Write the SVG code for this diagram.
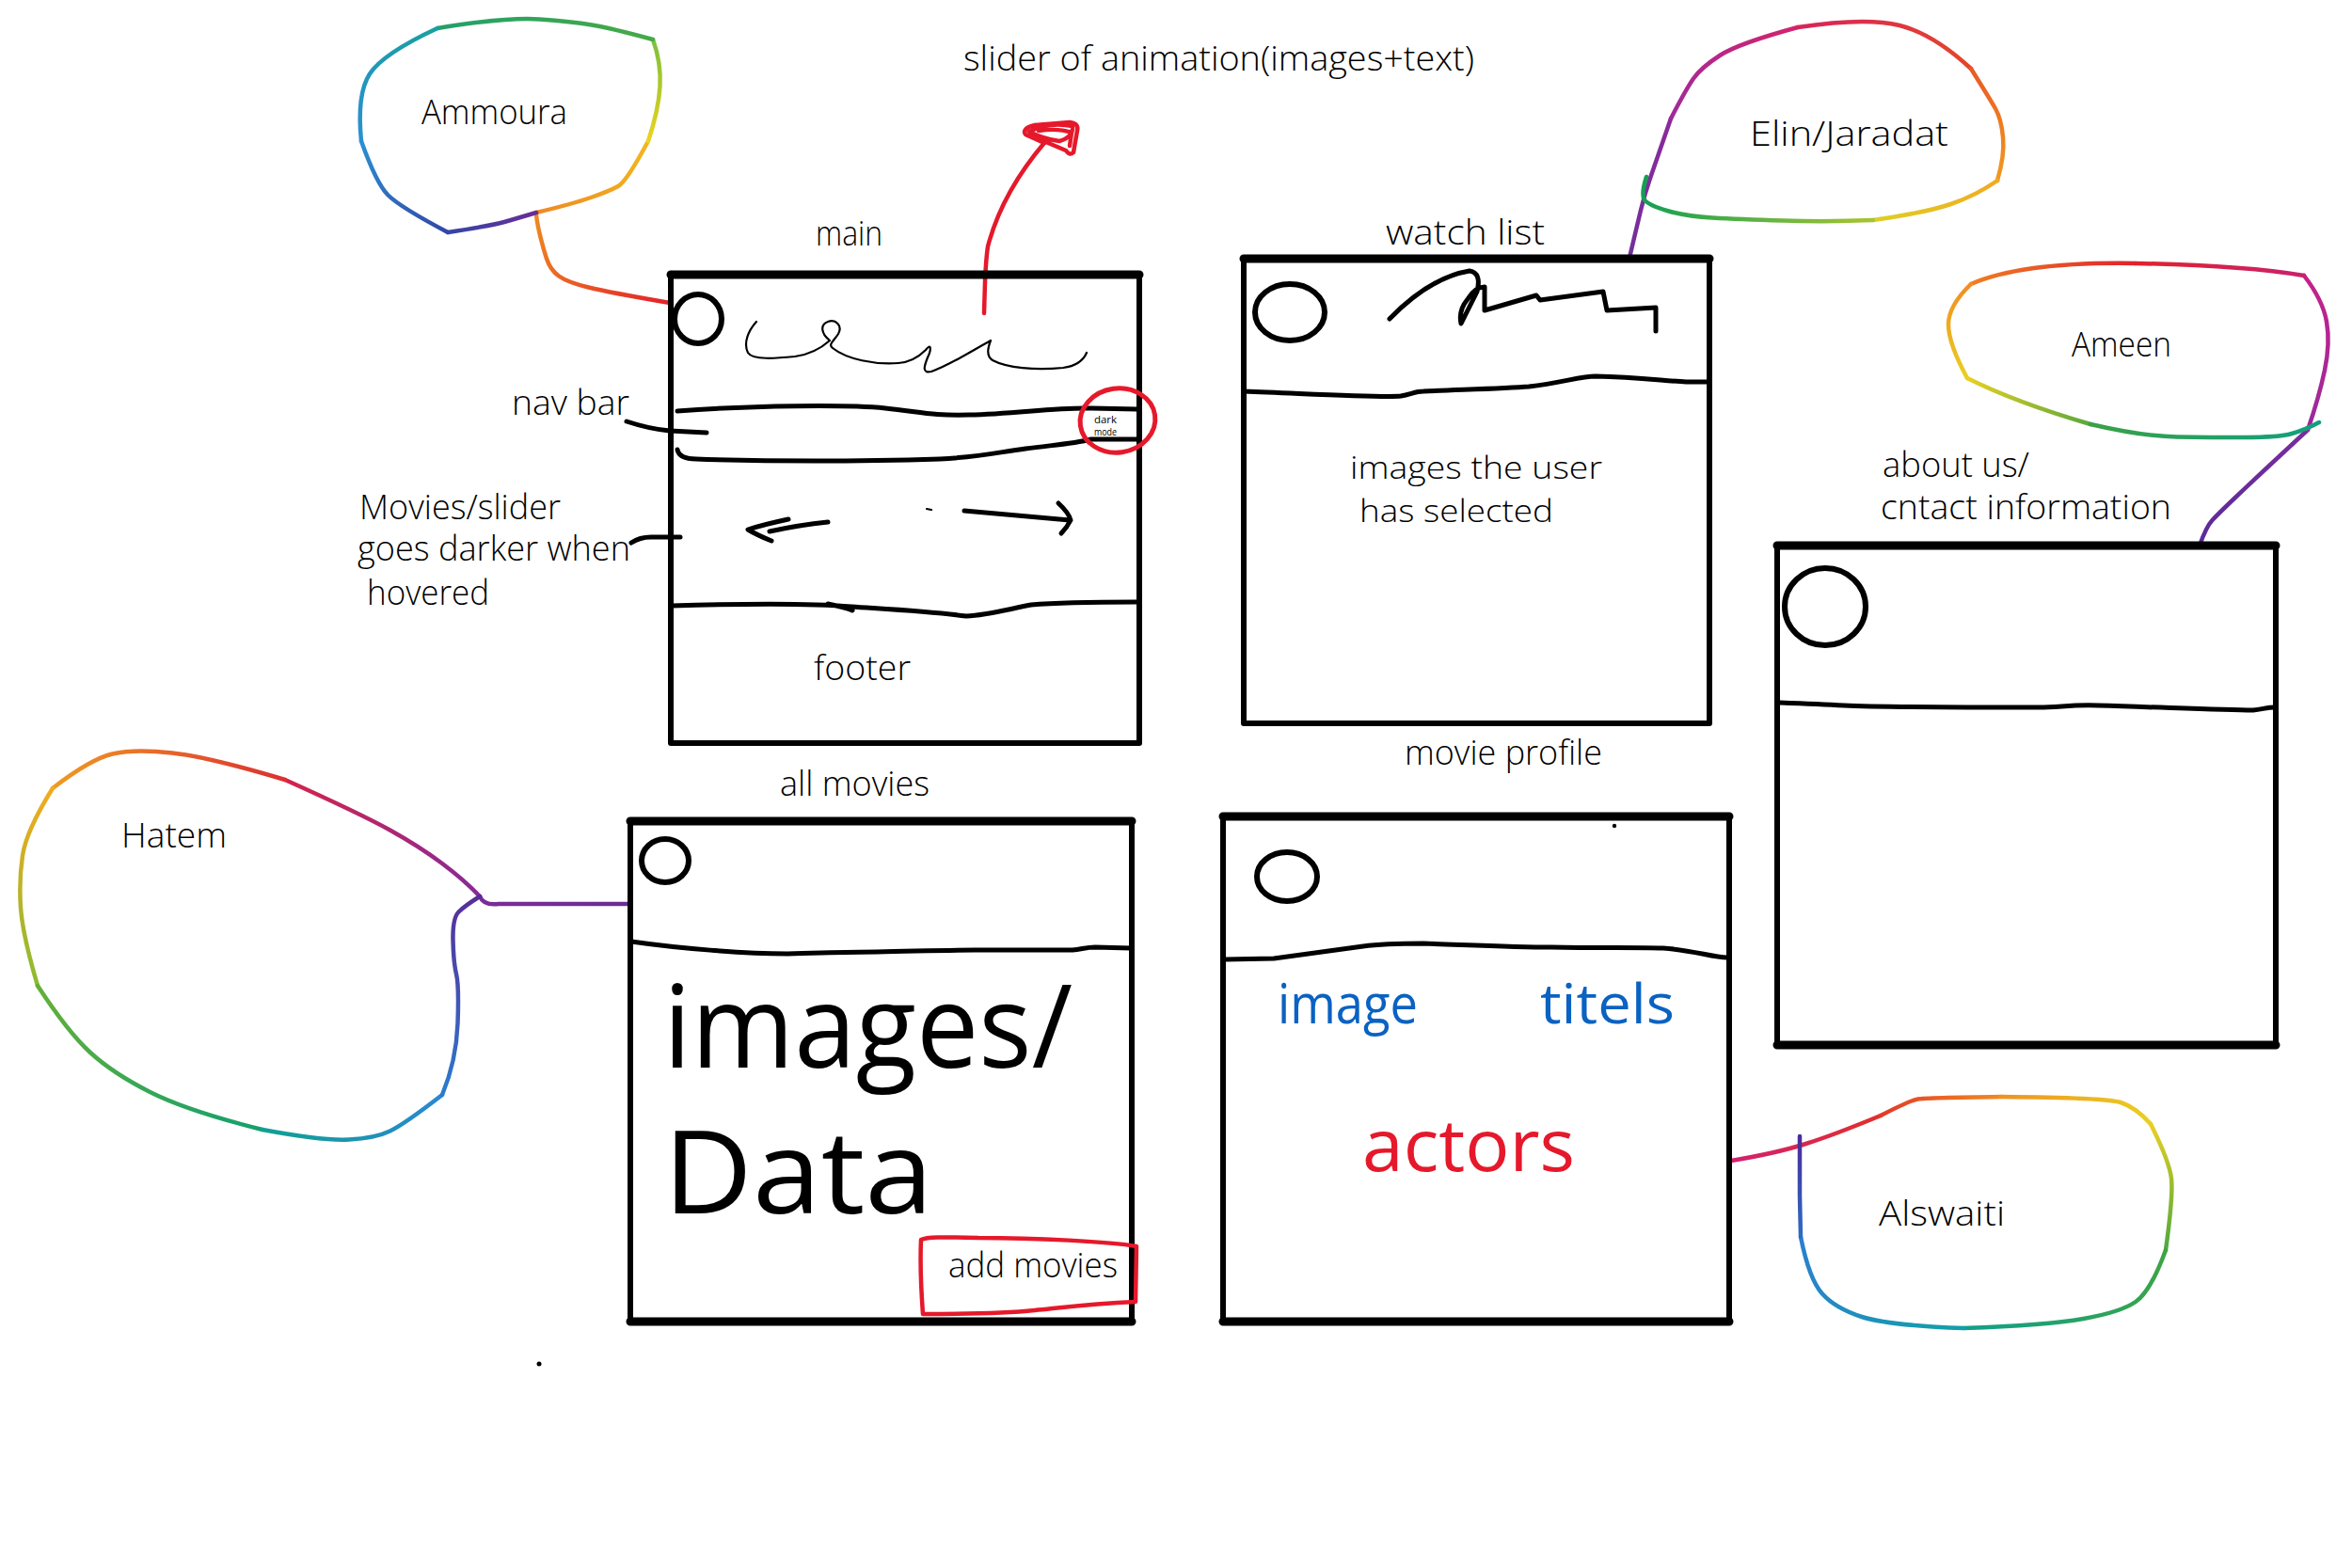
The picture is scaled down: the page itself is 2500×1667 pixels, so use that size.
<svg xmlns="http://www.w3.org/2000/svg" width="2500" height="1667" viewBox="0 0 2500 1667">
<style>
.box{fill:none;stroke:#000;stroke-width:6;stroke-linecap:round;stroke-linejoin:round}
.top{fill:none;stroke:#000;stroke-width:9;stroke-linecap:round}
.ln{fill:none;stroke:#000;stroke-width:5;stroke-linecap:round;stroke-linejoin:round}
.thin{fill:none;stroke:#000;stroke-width:2.2;stroke-linecap:round;stroke-linejoin:round}
.logo{fill:none;stroke:#000;stroke-width:6}
.blob{fill:none;stroke-width:4.5;stroke-linecap:round;stroke-linejoin:round}
.redln{fill:none;stroke:#e5192b;stroke-width:4.5;stroke-linecap:round;stroke-linejoin:round}
.lbl{font-family:"Open Sans","Liberation Sans",sans-serif;font-size:36px;font-weight:300;fill:#000}
.sm{font-size:33px}
.tiny{font-family:"Open Sans","Liberation Sans",sans-serif;font-size:10px;fill:#000}
.big{font-family:"Open Sans","Liberation Sans",sans-serif;font-size:122px;font-weight:500;fill:#000}
.blue{font-family:"Open Sans","Liberation Sans",sans-serif;font-size:58px;fill:#0a62c2}
.act{font-family:"Open Sans","Liberation Sans",sans-serif;font-size:76px;fill:#e5192b}
</style>
<defs>
<linearGradient id="gA1" gradientUnits="userSpaceOnUse" x1="712" y1="322" x2="570" y2="226"><stop offset="0" stop-color="#e5202a"/><stop offset="1" stop-color="#ee8a22"/></linearGradient>
<linearGradient id="gA2" gradientUnits="userSpaceOnUse" x1="570" y1="226" x2="689" y2="150"><stop offset="0" stop-color="#ee8a22"/><stop offset="1" stop-color="#f2b81e"/></linearGradient>
<linearGradient id="gA3" gradientUnits="userSpaceOnUse" x1="689" y1="150" x2="694" y2="42"><stop offset="0" stop-color="#eed21e"/><stop offset="1" stop-color="#7cc03c"/></linearGradient>
<linearGradient id="gA4" gradientUnits="userSpaceOnUse" x1="694" y1="42" x2="465" y2="30"><stop offset="0" stop-color="#46aa46"/><stop offset="1" stop-color="#22a06a"/></linearGradient>
<linearGradient id="gA5" gradientUnits="userSpaceOnUse" x1="465" y1="30" x2="384" y2="150"><stop offset="0" stop-color="#18a0a0"/><stop offset="1" stop-color="#2a90d2"/></linearGradient>
<linearGradient id="gA6" gradientUnits="userSpaceOnUse" x1="384" y1="150" x2="476" y2="247"><stop offset="0" stop-color="#2a90d2"/><stop offset="1" stop-color="#3446a6"/></linearGradient>
<linearGradient id="gA7" gradientUnits="userSpaceOnUse" x1="476" y1="247" x2="570" y2="226"><stop offset="0" stop-color="#3446a6"/><stop offset="1" stop-color="#6a2c96"/></linearGradient>

<linearGradient id="gE1" gradientUnits="userSpaceOnUse" x1="1732" y1="274" x2="1776" y2="126"><stop offset="0" stop-color="#72309a"/><stop offset="1" stop-color="#8a2a9c"/></linearGradient>
<linearGradient id="gE2" gradientUnits="userSpaceOnUse" x1="1776" y1="126" x2="1911" y2="29"><stop offset="0" stop-color="#a02a9a"/><stop offset="1" stop-color="#d2246e"/></linearGradient>
<linearGradient id="gE3" gradientUnits="userSpaceOnUse" x1="1911" y1="29" x2="2095" y2="73"><stop offset="0" stop-color="#d8245a"/><stop offset="1" stop-color="#e4462a"/></linearGradient>
<linearGradient id="gE4" gradientUnits="userSpaceOnUse" x1="2095" y1="73" x2="2123" y2="192"><stop offset="0" stop-color="#e85a24"/><stop offset="1" stop-color="#f09a22"/></linearGradient>
<linearGradient id="gE5" gradientUnits="userSpaceOnUse" x1="2123" y1="192" x2="1991" y2="234"><stop offset="0" stop-color="#f2aa20"/><stop offset="1" stop-color="#dcd024"/></linearGradient>
<linearGradient id="gE6" gradientUnits="userSpaceOnUse" x1="1991" y1="234" x2="1750" y2="188"><stop offset="0" stop-color="#a8c432"/><stop offset="1" stop-color="#12a052"/></linearGradient>

<linearGradient id="gM1" gradientUnits="userSpaceOnUse" x1="2338" y1="580" x2="2453" y2="457"><stop offset="0" stop-color="#5a2c9a"/><stop offset="1" stop-color="#7a2c9c"/></linearGradient>
<linearGradient id="gM2" gradientUnits="userSpaceOnUse" x1="2453" y1="457" x2="2449" y2="293"><stop offset="0" stop-color="#9a2a9c"/><stop offset="1" stop-color="#c4228a"/></linearGradient>
<linearGradient id="gM3" gradientUnits="userSpaceOnUse" x1="2449" y1="293" x2="2270" y2="280"><stop offset="0" stop-color="#c8226e"/><stop offset="1" stop-color="#e0222c"/></linearGradient>
<linearGradient id="gM4" gradientUnits="userSpaceOnUse" x1="2270" y1="280" x2="2095" y2="302"><stop offset="0" stop-color="#e0222c"/><stop offset="1" stop-color="#f07e22"/></linearGradient>
<linearGradient id="gM5" gradientUnits="userSpaceOnUse" x1="2095" y1="302" x2="2091" y2="402"><stop offset="0" stop-color="#f08e22"/><stop offset="1" stop-color="#e8d022"/></linearGradient>
<linearGradient id="gM6" gradientUnits="userSpaceOnUse" x1="2091" y1="402" x2="2222" y2="451"><stop offset="0" stop-color="#e8d022"/><stop offset="1" stop-color="#5aa83e"/></linearGradient>
<linearGradient id="gM7" gradientUnits="userSpaceOnUse" x1="2222" y1="451" x2="2465" y2="449"><stop offset="0" stop-color="#3aa048"/><stop offset="1" stop-color="#10a07e"/></linearGradient>

<linearGradient id="gW1" gradientUnits="userSpaceOnUse" x1="1840" y1="1234" x2="1999" y2="1186"><stop offset="0" stop-color="#d4206e"/><stop offset="1" stop-color="#e0302a"/></linearGradient>
<linearGradient id="gW2" gradientUnits="userSpaceOnUse" x1="1999" y1="1186" x2="2127" y2="1166"><stop offset="0" stop-color="#e23a28"/><stop offset="1" stop-color="#f08a22"/></linearGradient>
<linearGradient id="gW3" gradientUnits="userSpaceOnUse" x1="2127" y1="1166" x2="2286" y2="1195"><stop offset="0" stop-color="#f09222"/><stop offset="1" stop-color="#e8d022"/></linearGradient>
<linearGradient id="gW4" gradientUnits="userSpaceOnUse" x1="2286" y1="1195" x2="2302" y2="1329"><stop offset="0" stop-color="#e8d022"/><stop offset="1" stop-color="#4ea840"/></linearGradient>
<linearGradient id="gW5" gradientUnits="userSpaceOnUse" x1="2302" y1="1329" x2="2087" y2="1412"><stop offset="0" stop-color="#3ea444"/><stop offset="1" stop-color="#10a08a"/></linearGradient>
<linearGradient id="gW6" gradientUnits="userSpaceOnUse" x1="2087" y1="1412" x2="1914" y2="1315"><stop offset="0" stop-color="#12a0a8"/><stop offset="1" stop-color="#2a80d0"/></linearGradient>
<linearGradient id="gW7" gradientUnits="userSpaceOnUse" x1="1914" y1="1315" x2="1913" y2="1208"><stop offset="0" stop-color="#2c6cc4"/><stop offset="1" stop-color="#4a2c9a"/></linearGradient>

<linearGradient id="gH1" gradientUnits="userSpaceOnUse" x1="670" y1="961" x2="510" y2="953"><stop offset="0" stop-color="#6a2c94"/><stop offset="1" stop-color="#7a2c9a"/></linearGradient>
<linearGradient id="gH2" gradientUnits="userSpaceOnUse" x1="510" y1="953" x2="303" y2="829"><stop offset="0" stop-color="#862a9a"/><stop offset="1" stop-color="#d4244c"/></linearGradient>
<linearGradient id="gH3" gradientUnits="userSpaceOnUse" x1="303" y1="829" x2="56" y2="838"><stop offset="0" stop-color="#dc3030"/><stop offset="1" stop-color="#f09a22"/></linearGradient>
<linearGradient id="gH4" gradientUnits="userSpaceOnUse" x1="56" y1="838" x2="40" y2="1048"><stop offset="0" stop-color="#f2aa20"/><stop offset="1" stop-color="#8cbc30"/></linearGradient>
<linearGradient id="gH5" gradientUnits="userSpaceOnUse" x1="40" y1="1048" x2="279" y2="1201"><stop offset="0" stop-color="#64b038"/><stop offset="1" stop-color="#12a06e"/></linearGradient>
<linearGradient id="gH6" gradientUnits="userSpaceOnUse" x1="279" y1="1201" x2="470" y2="1164"><stop offset="0" stop-color="#10a092"/><stop offset="1" stop-color="#2a88d2"/></linearGradient>
<linearGradient id="gH7" gradientUnits="userSpaceOnUse" x1="470" y1="1164" x2="510" y2="953"><stop offset="0" stop-color="#2a7ccc"/><stop offset="1" stop-color="#5a2c9a"/></linearGradient>
</defs>
<rect width="2500" height="1667" fill="#fff"/>

<!-- connectors -->
<g id="connectors">
  <path class="blob" stroke="url(#gA1)" d="M712,322 Q648,311 625.5,305.5 Q603,300 594,293.5 Q585,287 581,275 Q577,263 573.5,248 Q570,233 570,226"/>
  <path class="blob" stroke="url(#gE1)" d="M1732,274 Q1740,240 1744,223.5 Q1748,207 1754,189.5 Q1760,172 1776,126"/>
  <path class="blob" stroke="url(#gM1)" d="M2338,580 Q2345,560 2351.5,553 Q2358,546 2378,527 Q2398,508 2453,457"/>
  <path class="blob" stroke="url(#gW1)" d="M1840,1234 Q1888,1226 1919.5,1216 Q1951,1206 1999,1186"/>
  <path class="blob" stroke="url(#gH1)" d="M670,961 L530,961 Q514,963 510,953"/>
  <path class="ln" d="M666,448 Q690,456 712,458 L751,460"/>
  <path class="ln" stroke-width="3" d="M671,577 Q680,571 692,571 L723,571"/>
  <g id="slider-arrow">
    <path class="redln" d="M1046,333 L1047,300 Q1048,275 1050,262 Q1065,205 1110,152"/>
    <path class="redln" d="M1110,152 L1090,143 Q1086,136 1100,133 L1137,130 Q1147,131 1145,139 L1141,162 Q1137,166 1133,160 L1100,146 M1094,140 Q1115,129 1140,134 Q1141,146 1126,150 Q1110,148 1094,140 M1104,139 Q1125,136 1139,141 L1137,155"/>
  </g>
</g>

<!-- main -->
<g id="main">
  <path class="box" d="M713,292 L1211,292 L1211,790 L713,790 Z"/>
  <path class="top" d="M713,292 L1211,292"/>
  <ellipse class="logo" cx="742" cy="339" rx="25" ry="26"/>
  <path class="thin" d="M804,342 C795,352 790,365 795,375 C800,383 825,381 845,379 C860,377 873,370 882,362 C872,354 872,345 880,342 C888,339 896,346 891,355 C886,363 880,366 885,370 C900,382 930,388 955,386 C968,385 976,380 984,372 C990,364 990,372 986,380 C982,390 980,397 990,395 C1010,388 1035,372 1053,362 C1050,370 1048,378 1055,383 C1070,391 1100,394 1130,391 C1145,389 1152,382 1155,375"/>
  <path class="ln" d="M720,437 C800,431 900,430 941,434 C980,438 990,442 1030,441 C1080,440 1120,433 1160,434 L1208,435"/>
  <path class="ln" d="M720,478 Q722,488 740,488 C800,490 900,491 999,488 C1040,486 1060,481 1090,477 C1120,473 1140,472 1160,467 L1208,467"/>
  <ellipse cx="1188" cy="447" rx="40" ry="34" fill="none" stroke="#e5192b" stroke-width="5" transform="rotate(-8 1188 447)"/>
  <text class="tiny" x="1163" y="450" textLength="24" lengthAdjust="spacingAndGlyphs">dark</text>
  <text class="tiny" x="1163" y="463" textLength="24" lengthAdjust="spacingAndGlyphs">mode</text>
  <path class="ln" d="M880,555 Q850,558 818,565 M838,552 Q810,558 795,563 Q805,569 820,575"/>
  <path class="ln" d="M1025,543 Q1080,548 1137,553 M1125,535 Q1136,545 1138,553 Q1134,561 1128,567"/>
  <path class="thin" d="M985,541 L990,542"/>
  <path class="ln" d="M714,644 C780,642 860,641 905,645 C950,648 990,650 1027,655 C1050,654 1070,648 1096,643 C1130,640 1170,640 1208,640 M880,642 Q900,646 906,649"/>
  <text class="lbl" x="867" y="261" textLength="71" lengthAdjust="spacingAndGlyphs">main</text>
  <text class="lbl" x="865" y="723" textLength="103" lengthAdjust="spacingAndGlyphs">footer</text>
  <text class="lbl" x="544" y="441" textLength="125" lengthAdjust="spacingAndGlyphs">nav bar</text>
  <text class="lbl" x="382" y="552" textLength="214" lengthAdjust="spacingAndGlyphs">Movies/slider</text>
  <text class="lbl" x="380" y="596" textLength="290" lengthAdjust="spacingAndGlyphs">goes darker when</text>
  <text class="lbl" x="390" y="643" textLength="130" lengthAdjust="spacingAndGlyphs">hovered</text>
  <text class="lbl" x="1024" y="75" textLength="543" lengthAdjust="spacingAndGlyphs">slider of animation(images+text)</text>
</g>

<!-- watch list -->
<g id="watch-list">
  <path class="box" d="M1322,275 L1817,275 L1817,769 L1322,769 Z"/>
  <path class="top" d="M1322,275 L1817,275"/>
  <ellipse class="logo" cx="1371" cy="332" rx="37" ry="30"/>
  <path class="ln" stroke-width="4" d="M1477,339 Q1520,295 1562,288 Q1575,290 1570,310 L1553,344 Q1550,330 1560,318 Q1568,305 1578,305 L1578,330 L1633,314 L1637,319 L1704,310 L1708,330 L1760,327 L1760,352"/>
  <path class="ln" d="M1322,416 C1400,419 1470,423 1489,421 C1500,419 1505,416 1513,416 C1560,414 1600,413 1625,411 C1660,407 1680,400 1696,400 C1740,401 1770,405 1792,406 L1816,406"/>
  <text class="lbl" x="1473" y="260" textLength="169" lengthAdjust="spacingAndGlyphs">watch list</text>
  <text class="lbl sm" x="1435" y="509" textLength="268" lengthAdjust="spacingAndGlyphs">images the user</text>
  <text class="lbl sm" x="1445" y="555" textLength="206" lengthAdjust="spacingAndGlyphs">has selected</text>
</g>

<!-- about us -->
<g id="about-us">
  <path class="box" d="M1889,580 L2419,580 L2419,1111 L1889,1111 Z"/>
  <path class="top" d="M1889,580 L2419,580 M1889,1111 L2419,1111"/>
  <ellipse class="logo" cx="1940" cy="645" rx="43" ry="41"/>
  <path class="ln" d="M1892,747 C1920,748 1943,749 1960,750 C2000,752 2100,752 2167,752 C2190,752 2200,749 2230,750 C2300,752 2360,755 2395,755 C2405,754 2410,752 2418,752"/>
  <text class="lbl" x="2001" y="507" textLength="156" lengthAdjust="spacingAndGlyphs">about us/</text>
  <text class="lbl" x="1999" y="552" textLength="309" lengthAdjust="spacingAndGlyphs">cntact information</text>
</g>

<!-- movie profile -->
<g id="movie-profile">
  <path class="box" d="M1300,868 L1838,868 L1838,1405 L1300,1405 Z"/>
  <path class="top" d="M1300,868 L1838,868 M1300,1405 L1838,1405"/>
  <circle cx="1716" cy="878" r="2.2" fill="#000"/>
  <ellipse class="logo" cx="1368" cy="932" rx="32" ry="26"/>
  <path class="ln" d="M1302,1020 L1354,1019 C1390,1014 1420,1010 1449,1006 C1470,1003 1490,1003 1513,1003 C1570,1005 1610,1007 1649,1007 C1700,1008 1740,1007 1768,1008 C1800,1010 1820,1018 1836,1018"/>
  <text class="lbl" x="1493" y="813" textLength="210" lengthAdjust="spacingAndGlyphs">movie profile</text>
  <text class="blue" x="1358" y="1088" textLength="149" lengthAdjust="spacingAndGlyphs">image</text>
  <text class="blue" x="1637" y="1088" textLength="143" lengthAdjust="spacingAndGlyphs">titels</text>
  <text class="act" x="1448" y="1245" textLength="226" lengthAdjust="spacingAndGlyphs">actors</text>
</g>

<!-- all movies -->
<g id="all-movies">
  <path class="box" d="M670,873 L1203,873 L1203,1405 L670,1405 Z"/>
  <path class="top" d="M670,873 L1203,873 M670,1405 L1203,1405"/>
  <ellipse class="logo" stroke-width="5" cx="707" cy="915" rx="25" ry="23"/>
  <path class="ln" d="M671,1001 C720,1008 790,1014 837,1014 C880,1013 900,1012 932,1012 C980,1011 1010,1010 1036,1010 C1080,1010 1120,1010 1140,1010 C1150,1009 1155,1007 1164,1007 L1202,1008"/>
  <text class="big" x="705" y="1135" textLength="435" lengthAdjust="spacingAndGlyphs">images/</text>
  <text class="big" x="705" y="1290" textLength="287" lengthAdjust="spacingAndGlyphs">Data</text>
  <path class="redln" d="M979,1318 C978,1340 979,1370 981,1397 C1030,1397 1070,1396 1100,1393 C1130,1390 1160,1386 1207,1384 L1208,1325 C1180,1320 1100,1316 1040,1316 C1000,1315 985,1315 979,1318 Z"/>
  <text class="lbl" x="1008" y="1358" textLength="180" lengthAdjust="spacingAndGlyphs">add movies</text>
  <text class="lbl" x="829" y="846" textLength="159" lengthAdjust="spacingAndGlyphs">all movies</text>
</g>
<circle cx="573" cy="1450" r="2.5" fill="#000"/>

<!-- blobs -->
<g id="ammoura">
  <path class="blob" stroke="url(#gA2)" d="M570,226 Q608,217 628,210 Q648,203 657,198 Q666,193 689,150"/>
  <path class="blob" stroke="url(#gA3)" d="M689,150 Q700,117 701.5,92 Q703,67 694,42"/>
  <path class="blob" stroke="url(#gA4)" d="M694,42 Q650,30 629,26.5 Q608,23 573.5,20.5 Q539,18 465,30"/>
  <path class="blob" stroke="url(#gA5)" d="M465,30 Q407,57 393,78.5 Q379,100 384,150"/>
  <path class="blob" stroke="url(#gA6)" d="M384,150 Q400,195 412.5,207.5 Q425,220 476,247"/>
  <path class="blob" stroke="url(#gA7)" d="M476,247 Q522,240 536,236 Q550,232 570,226"/>
  <text class="lbl" x="448" y="132" textLength="155" lengthAdjust="spacingAndGlyphs">Ammoura</text>
</g>
<g id="elin-jaradat">
  <path class="blob" stroke="url(#gE2)" d="M1776,126 Q1792,95 1800,83.5 Q1808,72 1828,59 Q1848,46 1911,29"/>
  <path class="blob" stroke="url(#gE3)" d="M1911,29 Q1983,18 2019,27 Q2055,36 2095,73"/>
  <path class="blob" stroke="url(#gE4)" d="M2095,73 Q2115,105 2121,115.5 Q2127,126 2129,145.5 Q2131,165 2123,192"/>
  <path class="blob" stroke="url(#gE5)" d="M2123,192 Q2100,208 2073.5,217 Q2047,226 1991,234"/>
  <path class="blob" stroke="url(#gE6)" d="M1991,234 Q1943,236 1895.5,234.5 Q1848,233 1820,231.5 Q1792,230 1772,224 Q1752,218 1748,212.5 Q1744,207 1750,188"/>
  <text class="lbl" x="1860" y="155" textLength="211" lengthAdjust="spacingAndGlyphs">Elin/Jaradat</text>
</g>
<g id="ameen">
  <path class="blob" stroke="url(#gM2)" d="M2453,457 Q2465,422 2471,393.5 Q2477,365 2473,342 Q2469,319 2449,293"/>
  <path class="blob" stroke="url(#gM3)" d="M2449,293 Q2382,282 2270,280"/>
  <path class="blob" stroke="url(#gM4)" d="M2270,280 Q2151,278 2095,302"/>
  <path class="blob" stroke="url(#gM5)" d="M2095,302 Q2071,325 2071,345 Q2071,365 2091,402"/>
  <path class="blob" stroke="url(#gM6)" d="M2091,402 Q2143,428 2222,451"/>
  <path class="blob" stroke="url(#gM7)" d="M2222,451 Q2278,464 2314,464.5 Q2350,465 2386,465 Q2422,465 2436,461 Q2450,457 2465,449"/>
  <text class="lbl" x="2202" y="379" textLength="106" lengthAdjust="spacingAndGlyphs">Ameen</text>
</g>
<g id="alswaiti">
  <path class="blob" stroke="url(#gW2)" d="M1999,1186 Q2030,1170 2038.5,1168.5 Q2047,1167 2127,1166"/>
  <path class="blob" stroke="url(#gW3)" d="M2127,1166 Q2238,1167 2254,1172 Q2270,1177 2286,1195"/>
  <path class="blob" stroke="url(#gW4)" d="M2286,1195 Q2306,1235 2308,1253 Q2310,1271 2302,1329"/>
  <path class="blob" stroke="url(#gW5)" d="M2302,1329 Q2286,1373 2270,1384 Q2254,1395 2214.5,1402 Q2175,1409 2087,1412"/>
  <path class="blob" stroke="url(#gW6)" d="M2087,1412 Q2007,1409 1979,1400 Q1951,1391 1937,1375.5 Q1923,1360 1914,1315"/>
  <path class="blob" stroke="url(#gW7)" d="M1914,1315 L1913,1271 L1913,1208"/>
  <text class="lbl" x="1997" y="1303" textLength="134" lengthAdjust="spacingAndGlyphs">Alswaiti</text>
</g>
<g id="hatem">
  <path class="blob" stroke="url(#gH2)" d="M510,953 Q494,936 470,918 Q446,900 414.5,882.5 Q383,865 303,829"/>
  <path class="blob" stroke="url(#gH3)" d="M303,829 Q223,805 183,800.5 Q143,796 119.5,801.5 Q96,807 56,838"/>
  <path class="blob" stroke="url(#gH4)" d="M56,838 Q28,883 24,909.5 Q20,936 22,965 Q24,994 40,1048"/>
  <path class="blob" stroke="url(#gH5)" d="M40,1048 Q72,1097 96,1119 Q120,1141 159.5,1161 Q199,1181 279,1201"/>
  <path class="blob" stroke="url(#gH6)" d="M279,1201 Q343,1213 371,1211.5 Q399,1210 414.5,1202.5 Q430,1195 470,1164"/>
  <path class="blob" stroke="url(#gH7)" d="M470,1164 Q485,1128 486.5,1088 Q488,1048 485,1035.5 Q482,1023 481.5,999.5 Q481,976 487.5,969.5 Q494,963 510,953"/>
  <text class="lbl" x="129" y="901" textLength="112" lengthAdjust="spacingAndGlyphs">Hatem</text>
</g>
</svg>
